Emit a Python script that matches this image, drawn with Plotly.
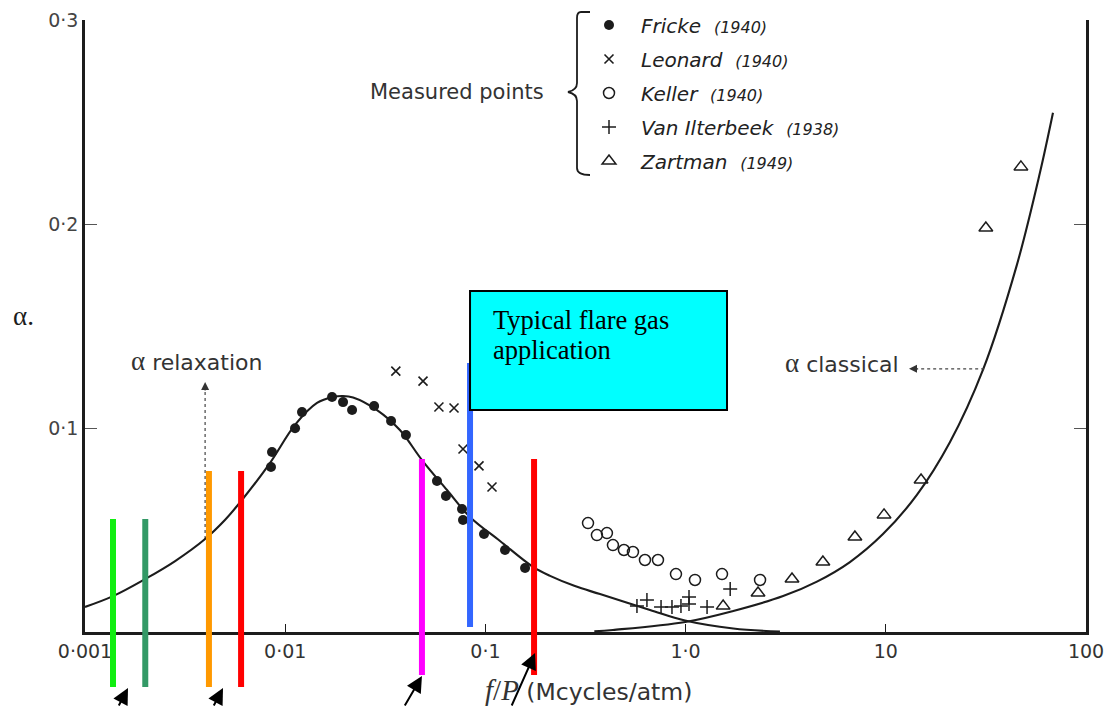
import math
import plotly.graph_objects as go

# ---- measured points: f/P (Mcycles/atm) and absorption alpha ----
fricke_f = [0.00849, 0.00859, 0.0112, 0.01213, 0.01714, 0.01945, 0.02158, 0.0278, 0.0338,
            0.0401, 0.0573, 0.0635, 0.0764, 0.0773, 0.0984, 0.1253, 0.1578]
fricke_a = [0.0809, 0.0882, 0.0999, 0.1078, 0.1152, 0.1127, 0.1088, 0.1108, 0.1034,
            0.0966, 0.0740, 0.0667, 0.0603, 0.0549, 0.0480, 0.0402, 0.0314]

leonard_f = [0.0357, 0.0488, 0.0586, 0.0697, 0.0773, 0.0929, 0.1079]
leonard_a = [0.1279, 0.1230, 0.1103, 0.1098, 0.0897, 0.0814, 0.0711]

keller_f = [0.3255, 0.3606, 0.4046, 0.4335, 0.4920, 0.5458, 0.6266, 0.7278, 0.8953, 1.114, 1.520, 2.354]
keller_a = [0.0534, 0.0475, 0.0485, 0.0426, 0.0402, 0.0392, 0.0353, 0.0353, 0.0284, 0.0255, 0.0284, 0.0255]

itterbeek_f = [0.5715, 0.641, 0.754, 0.855, 0.948, 1.04, 1.04, 1.28, 1.67]
itterbeek_a = [0.0127, 0.0157, 0.0123, 0.0123, 0.0127, 0.0172, 0.0137, 0.0123, 0.0211]

zartman_f = [1.54, 2.30, 3.40, 4.85, 7.01, 9.80, 15.0, 31.6, 47.3]
zartman_a = [0.0127, 0.0191, 0.0260, 0.0343, 0.0466, 0.0574, 0.0745, 0.198, 0.228]

# ---- theoretical curves ----
relax_f = [0.001, 0.00138, 0.002, 0.00282, 0.00398, 0.005, 0.00608, 0.00839, 0.01119, 0.01442,
           0.01734, 0.01945, 0.02183, 0.02876, 0.0374, 0.0482, 0.0643, 0.0837, 0.1183, 0.1729,
           0.2104, 0.280, 0.3736, 0.664, 0.993, 1.73, 2.96]
relax_a = [0.0123, 0.0176, 0.0260, 0.0348, 0.0456, 0.0549, 0.0647, 0.0828, 0.1015, 0.1123,
           0.1152, 0.1157, 0.1150, 0.1088, 0.0990, 0.0843, 0.0696, 0.0564, 0.0446, 0.0319,
           0.0275, 0.0225, 0.0186, 0.0108, 0.0056, 0.0017, 0.0002]

classical_f = [0.35, 0.4335, 0.997, 1.73, 3.07, 4.53, 6.62, 9.68, 14.3, 20.9, 30.6, 45.2, 58.9, 68.4]
classical_a = [0.0003, 0.0010, 0.0049, 0.0103, 0.0176, 0.0247, 0.0343, 0.0480, 0.0672, 0.0930,
               0.1286, 0.1801, 0.2252, 0.2545]

# ---- axis ticks ----
x_ticks = [0.001, 0.01, 0.1, 1, 10, 100]
x_ticktext = ["0·001", "0·01", "0·1", "1·0", "10", "100"]
y_ticks = [0.1, 0.2, 0.3]
y_ticktext = ["0·1", "0·2", "0·3"]

# ---- highlighted frequencies (vertical markers) ----
band_f = [0.00138, 0.00200, 0.00416, 0.00602, 0.0482, 0.0838, 0.175]
band_top = [0.0554, 0.0554, 0.0789, 0.0789, 0.0848, 0.1319, 0.0848]
band_bottom = [-0.0270, -0.0270, -0.0270, -0.0270, -0.0211, 0.0025, -0.0211]
band_color = ["#11EE11", "#339966", "#FF9900", "#FF0000", "#FF00FF", "#3366FF", "#FF0000"]

# pointer arrows under the axis
pointer_f = [0.00164, 0.00489, 0.0482, 0.177]
pointer_tip = [-0.0275, -0.0275, -0.0216, -0.0103]

# flare-gas application box
box_f = [0.0838, 1.61]
box_a = [0.1088, 0.1672]
box_lines = ["Typical flare gas", "application"]
box_line_a = [0.1529, 0.1382]

Y_RANGE = [0.0, 0.3]
W, H = 1111, 707
M_L, M_R, M_T, M_B = 85, 25, 20, 75
PLOT_W = W - M_L - M_R
PLOT_H = H - M_T - M_B

SANS = "DejaVu Sans"
SERIF = "Liberation Serif"
INK = "#1c1c1c"


def a_to_paper(a):
    return (a - Y_RANGE[0]) / (Y_RANGE[1] - Y_RANGE[0])


def lg(v):
    return math.log10(v)


fig = go.Figure()

curve_line = dict(color=INK, width=2.1, shape="spline", smoothing=1.0)
fig.add_trace(go.Scatter(x=relax_f, y=relax_a, mode="lines", line=curve_line,
                         showlegend=False, hoverinfo="skip"))
fig.add_trace(go.Scatter(x=classical_f, y=classical_a, mode="lines", line=curve_line,
                         showlegend=False, hoverinfo="skip"))

yr = "<span style='font-size:16px'>(%s)</span>"
series = [
    ("Fricke  " + yr % "1940", fricke_f, fricke_a, dict(symbol="circle", size=10, color=INK)),
    ("Leonard  " + yr % "1940", leonard_f, leonard_a,
     dict(symbol="x-thin", size=9, color=INK, line=dict(width=1.6, color=INK))),
    ("Keller  " + yr % "1940", keller_f, keller_a,
     dict(symbol="circle-open", size=11, color=INK, line=dict(width=1.5, color=INK))),
    ("Van Ilterbeek  " + yr % "1938", itterbeek_f, itterbeek_a,
     dict(symbol="cross-thin", size=10, color=INK, line=dict(width=1.5, color=INK))),
    ("Zartman  " + yr % "1949", zartman_f, zartman_a,
     dict(symbol="triangle-up-open", size=12, color=INK, line=dict(width=1.5, color=INK))),
]
for i, (name, xs, ys, mk) in enumerate(series):
    fig.add_trace(go.Scatter(x=xs, y=ys, mode="markers", name=name, marker=mk,
                             legendgroup="g%d" % i, hoverinfo="skip"))

shapes = []
# vertical frequency markers, extending below the axis
for f, top, bot, col in zip(band_f, band_top, band_bottom, band_color):
    shapes.append(dict(type="line", xref="x", yref="paper", x0=f, x1=f,
                       y0=a_to_paper(bot), y1=a_to_paper(top),
                       line=dict(color=col, width=6), layer="above"))
# application box
shapes.append(dict(type="rect", xref="x", yref="y", x0=box_f[0], x1=box_f[1],
                   y0=box_a[0], y1=box_a[1], fillcolor="#00FFFF",
                   line=dict(color="black", width=2), layer="above"))
# dotted leaders for the curve labels
shapes.append(dict(type="line", xref="x", yref="y", x0=0.00398, x1=0.00398, y0=0.0456, y1=0.118,
                   line=dict(color="#444", width=1.2, dash="dot"), layer="below"))
shapes.append(dict(type="line", xref="x", yref="y", x0=31.0, x1=13.8, y0=0.129, y1=0.129,
                   line=dict(color="#444", width=1.2, dash="dot")))
# brace grouping the measured-point legend
shapes.append(dict(type="path", xref="paper", yref="paper",
                   xsizemode="pixel", ysizemode="pixel",
                   xanchor=(577 - M_L) / PLOT_W, yanchor=(H - M_B - 92) / PLOT_H,
                   path="M 13,80 L 4,80 Q 0,80 0,74 L 0,9 Q 0,2 -9,0 Q 0,-2 0,-9 L 0,-76 Q 0,-83 13,-83",
                   line=dict(color=INK, width=1.8)))

annotations = []
for f, tip, (ax, ay) in zip(pointer_f, pointer_tip, [(-10, 38), (-10, 38), (-18, 40), (-24, 60)]):
    annotations.append(dict(x=lg(f), y=a_to_paper(tip), xref="x", yref="paper", text="",
                            showarrow=True, arrowhead=2, arrowsize=1.6, arrowwidth=2,
                            arrowcolor="black", ax=ax, ay=ay))
# small arrowheads on the dotted leaders
annotations.append(dict(x=lg(0.00398), y=0.1225, xref="x", yref="y", text="", showarrow=True,
                        arrowhead=2, arrowsize=1.6, arrowwidth=1, arrowcolor="#333", ax=0, ay=10))
annotations.append(dict(x=lg(13.06), y=0.129, xref="x", yref="y", text="", showarrow=True,
                        arrowhead=2, arrowsize=1.6, arrowwidth=1, arrowcolor="#333", ax=10, ay=0))

alpha = "<span style='font-family:%s;font-size:27px'>α</span>" % SERIF
label_font = dict(family=SANS, size=22, color="#333")
annotations += [
    dict(x=lg(0.00165), y=0.133, xref="x", yref="y", xanchor="left", showarrow=False,
         text=alpha + " relaxation", font=label_font),
    dict(x=lg(11.9), y=0.132, xref="x", yref="y", xanchor="right", showarrow=False,
         text=alpha + " classical", font=label_font),
    dict(x=lg(0.2), y=0.2647, xref="x", yref="y", xanchor="right", showarrow=False,
         text="Measured points", font=dict(family=SANS, size=21, color="#333")),
    dict(x=lg(0.0973), y=a_to_paper(-0.0284), xref="x", yref="paper", xanchor="left",
         yanchor="middle", showarrow=False,
         text="<span style='font-family:%s;font-size:29px'><i>f</i>/<i>P</i></span> (Mcycles/atm)" % SERIF,
         font=dict(family=SANS, size=23.5, color="#333")),
    dict(x=-0.074, y=0.516, xref="paper", yref="paper", showarrow=False, text="α.",
         font=dict(family=SERIF, size=27, color=INK)),
]
for line_text, a in zip(box_lines, box_line_a):
    annotations.append(dict(x=lg(0.1067), y=a, xref="x", yref="y", xanchor="left",
                            yanchor="middle", showarrow=False, text=line_text,
                            font=dict(family=SERIF, size=26.5, color="black")))

fig.update_layout(
    width=W, height=H,
    margin=dict(l=M_L, r=M_R, t=M_T, b=M_B, autoexpand=False),
    paper_bgcolor="white", plot_bgcolor="white",
    xaxis=dict(type="log", range=[lg(x_ticks[0]), lg(x_ticks[-1])],
               tickvals=x_ticks, ticktext=x_ticktext, ticks="inside", ticklen=8, tickwidth=1.3,
               tickcolor=INK, showline=True, linecolor=INK, linewidth=2.5, showgrid=False,
               zeroline=False, tickfont=dict(family=SANS, size=19, color="#333")),
    yaxis=dict(range=Y_RANGE, tickvals=y_ticks, ticktext=y_ticktext, ticks="inside",
               ticklen=12, tickwidth=1.2, tickcolor="#555", showline=True, linecolor=INK,
               linewidth=2.5, mirror="ticks", showgrid=False, zeroline=False,
               tickfont=dict(family=SANS, size=19, color="#444")),
    legend=dict(x=(577 - M_L) / PLOT_W, y=1 + (M_T - 5.5) / PLOT_H, xanchor="left", yanchor="top",
                font=dict(family=SANS, size=20, color="#222", style="italic"),
                itemwidth=54, tracegroupgap=5, bgcolor="rgba(0,0,0,0)"),
    shapes=shapes,
    annotations=annotations,
)

fig.write_html("out.html")
